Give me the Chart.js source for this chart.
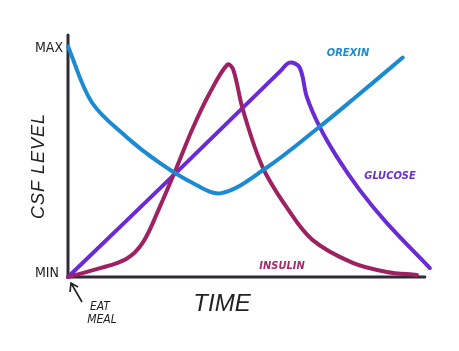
<!DOCTYPE html>
<html>
<head>
<meta charset="utf-8">
<script src="https://cdn.jsdelivr.net/npm/chart.js@4"></script>
<style>
  html, body { margin: 0; padding: 0; background: #fff; }
  #wrap { width: 459px; height: 351px; }
</style>
</head>
<body>
<div id="wrap"><canvas id="lineChart" width="459" height="351"></canvas></div>
<script>
// time (0 = eat meal, 100 = end of axis), level (0 = MIN, 100 = MAX)
var orexinTime = [0, 6.7, 16.3, 25.6, 34.8, 43, 55.6, 70.5, 79.8, 93.8];
var orexinLevel = [100, 75.7, 60.9, 49.6, 40.9, 36.4, 47.4, 65.2, 77, 95.2];

var insulinTime = [0, 8, 16.3, 21, 25.6, 30.3, 34.8, 39.6, 44.7, 46.3, 49, 54.5, 61.2, 68.5, 79.8, 89.3, 97.8];
var insulinLevel = [0, 3.4, 7.8, 15, 30, 47, 64, 79.5, 92.2, 90, 72.6, 47.8, 30.4, 16.1, 6.1, 2.2, 0.9];

var glucoseTime = [0, 31.2, 59.5, 62.1, 64.9, 66.9, 70.5, 75.3, 81.7, 89.3, 101.4];
var glucoseLevel = [0, 46.6, 89.3, 93, 90.9, 78.3, 65.2, 52.2, 37.8, 23.5, 3.9];

var seriesNames = ['OREXIN', 'INSULIN', 'GLUCOSE'];
var yTickLabels = ['MIN', 'MAX'];
var axisTitles = ['CSF LEVEL', 'TIME'];
var mealNote = ['EAT', 'MEAL'];

function toPoints(xs, ys) {
    return xs.map(function (x, i) { return { x: x, y: ys[i] }; });
}

var inkFont = '"Liberation Sans Narrow", "DejaVu Sans Condensed", sans-serif';
var titleFont = '"Liberation Sans", "DejaVu Sans", sans-serif';

var sketchAxes = {
    id: 'sketchAxes',
    beforeDatasetsDraw: function (chart) {
        var ctx = chart.ctx;
        var xs = chart.scales.x, ys = chart.scales.y;
        var x0 = xs.getPixelForValue(0), y0 = ys.getPixelForValue(0);
        ctx.save();
        ctx.strokeStyle = '#2e2b33';
        ctx.lineWidth = 3;
        ctx.lineCap = 'round';
        ctx.beginPath();
        ctx.moveTo(x0, ys.getPixelForValue(105));
        ctx.lineTo(x0, y0);
        ctx.lineTo(xs.getPixelForValue(100), y0);
        ctx.stroke();
        ctx.restore();
    },
    afterDatasetsDraw: function (chart) {
        var ctx = chart.ctx;
        var xs = chart.scales.x, ys = chart.scales.y;
        var x0 = xs.getPixelForValue(0);
        ctx.save();
        ctx.fillStyle = '#222';
        ctx.textAlign = 'center';
        ctx.textBaseline = 'middle';

        // MIN / MAX
        ctx.font = '14px ' + inkFont;
        ctx.fillText(yTickLabels[1], x0 - 19, ys.getPixelForValue(99));
        ctx.fillText(yTickLabels[0], x0 - 21, ys.getPixelForValue(1.5));

        // y title
        ctx.save();
        ctx.translate(39, 166);
        ctx.rotate(-Math.PI / 2);
        ctx.font = 'italic 18px ' + titleFont;
        ctx.letterSpacing = '1px';
        ctx.fillText(axisTitles[0], 0, 0);
        ctx.restore();

        // x title
        ctx.font = 'italic 24px ' + titleFont;
        ctx.fillText(axisTitles[1], 222, 304);

        // eat meal note + arrow
        ctx.font = 'italic 12px ' + inkFont;
        ctx.fillText(mealNote[0], 100, 307);
        ctx.fillText(mealNote[1], 102, 320);
        ctx.strokeStyle = '#222';
        ctx.lineWidth = 1.6;
        ctx.beginPath();
        ctx.moveTo(82, 302);
        ctx.lineTo(71, 283);
        ctx.moveTo(70, 292);
        ctx.lineTo(71, 283);
        ctx.lineTo(78, 287);
        ctx.stroke();

        // series labels
        ctx.font = 'italic bold 11px ' + inkFont;
        ctx.fillStyle = '#1f8ad0';
        ctx.fillText(seriesNames[0], 348, 53);
        ctx.fillStyle = '#a52a68';
        ctx.fillText(seriesNames[1], 282, 266);
        ctx.fillStyle = '#6b2fd6';
        ctx.fillText(seriesNames[2], 390, 176);
        ctx.restore();
    }
};

var ctx = document.getElementById('lineChart').getContext('2d');
var chart = new Chart(ctx, {
    type: 'scatter',
    data: {
        datasets: [
            {
                label: seriesNames[0],
                data: toPoints(orexinTime, orexinLevel),
                borderColor: '#1a8bd2',
                borderWidth: 4
            },
            {
                label: seriesNames[1],
                data: toPoints(insulinTime, insulinLevel),
                borderColor: '#9e2262',
                borderWidth: 4
            },
            {
                label: seriesNames[2],
                data: toPoints(glucoseTime, glucoseLevel),
                borderColor: '#6a2ad6',
                borderWidth: 4
            }
        ].map(function (d) {
            d.showLine = true;
            d.pointRadius = 0;
            d.tension = 0.35;
            d.clip = false;
            d.borderCapStyle = 'round';
            d.borderJoinStyle = 'round';
            return d;
        })
    },
    options: {
        responsive: false,
        animation: false,
        layout: { padding: { left: 68, right: 27, top: 35, bottom: 74 } },
        plugins: {
            legend: { display: false },
            tooltip: { enabled: false }
        },
        scales: {
            x: { type: 'linear', min: 0, max: 102, display: false },
            y: { type: 'linear', min: 0, max: 105, display: false }
        }
    },
    plugins: [sketchAxes]
});
</script>
</body>
</html>
